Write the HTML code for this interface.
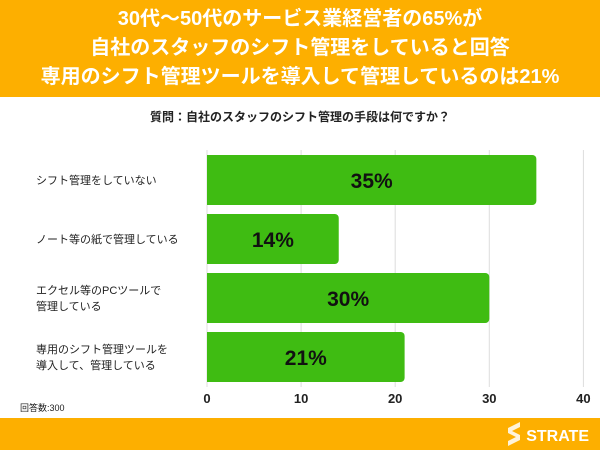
<!DOCTYPE html>
<html><head><meta charset="utf-8"><style>
body{margin:0;width:600px;height:450px;background:#fff;font-family:"Liberation Sans","Noto Sans CJK JP",sans-serif;overflow:hidden;position:relative}
.hdr{position:absolute;left:0;top:0;width:600px;height:97px;background:#fdaf00;color:#fff;font-weight:bold;font-size:20px;line-height:29px;text-align:center;padding-top:5px;box-sizing:border-box;white-space:nowrap}
.ftr{position:absolute;left:0;top:418px;width:600px;height:32px;background:#fdaf00}
</style></head><body>
<div class="hdr">30代〜50代のサービス業経営者の65%が<br>自社のスタッフのシフト管理をしていると回答<br>専用のシフト管理ツールを導入して管理しているのは21%</div>
<div class="ftr"></div>
<svg id="c" width="600" height="450" style="position:absolute;left:0;top:0">
<text x="300" y="121" text-anchor="middle" font-size="12" font-weight="bold" fill="#222">質問：自社のスタッフのシフト管理の手段は何ですか？</text>
<text x="20" y="411" font-size="9" fill="#222">回答数:300</text>
<text x="589" y="441" text-anchor="end" font-size="16" font-weight="bold" fill="#fff">STRATE</text>
<path d="M508 428 l12 -6 l0 5 l-8 4 l8 4 l0 5 l-12 6 l0 -5 l8 -4 l-8 -4z" fill="#fff" opacity="0.85"/>
</svg>
<script>
const categories=[["シフト管理をしていない"],["ノート等の紙で管理している"],["エクセル等のPCツールで","管理している"],["専用のシフト管理ツールを","導入して、管理している"]];
const values=[35,14,30,21];
const ticks=[0,10,20,30,40];
const svg=document.getElementById('c');const NS='http://www.w3.org/2000/svg';
const x0=207,xs=9.41,bandTop=151,band=59,barH=50;
const X=v=>x0+v*xs;
function mk(t,a){const e=document.createElementNS(NS,t);for(const k in a)e.setAttribute(k,a[k]);svg.appendChild(e);return e;}
ticks.forEach((t,i)=>{
 const g=mk('line',{x1:X(t),x2:X(t),y1:150,y2:387,stroke:'#ddd','stroke-width':1});
 
 
 const l=mk('text',{x:X(t),y:403,'text-anchor':'middle','font-size':13,'font-weight':'bold',fill:'#222'});l.textContent=t;
 
 
});
values.forEach((v,i)=>{
 const y=bandTop+i*band+4;
 const w=X(v)-x0;
 const b=mk('path',{d:`M${x0} ${y} h${w-4} a4 4 0 0 1 4 4 v${barH-8} a4 4 0 0 1 -4 4 h${-(w-4)} z`,fill:'#3fbc12'});
 
 
 const t=mk('text',{x:x0+w/2,y:y+barH/2+8,'text-anchor':'middle','font-size':21,'font-weight':'bold',fill:'#111'});t.textContent=v+'%';
 
 
 const lines=categories[i];
 lines.forEach((s,j)=>{
  const c=mk('text',{x:36,y:y+barH/2+4+(j-(lines.length-1)/2)*16,'font-size':11,fill:'#222'});c.textContent=s;
  
  
 });
});
</script>
</body></html>
